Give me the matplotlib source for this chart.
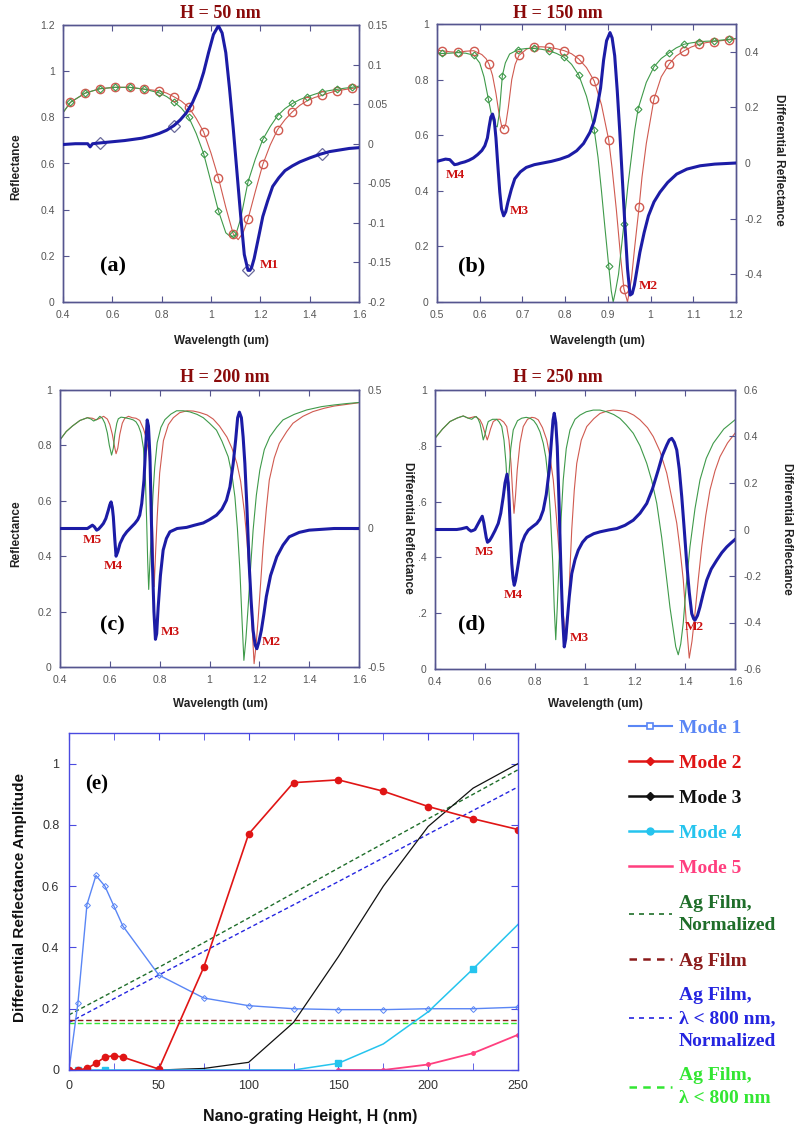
import matplotlib
matplotlib.use("Agg")
import matplotlib.pyplot as plt
from matplotlib.lines import Line2D
from matplotlib.ticker import MultipleLocator

# === Data: panel (a) H = 50 nm ===
a_red_x = [0.40, 0.43, 0.49, 0.55, 0.61, 0.67, 0.73, 0.79, 0.82, 0.85, 0.88, 0.91, 0.94, 0.97, 1.00, 1.03,
           1.06, 1.09, 1.11, 1.13, 1.15, 1.18, 1.21, 1.24, 1.27, 1.30, 1.33, 1.36, 1.39, 1.42, 1.45, 1.48,
           1.51, 1.54, 1.57, 1.60]
a_red_y = [0.82, 0.865, 0.905, 0.924, 0.93, 0.93, 0.922, 0.915, 0.905, 0.889, 0.87, 0.843, 0.795, 0.737,
           0.645, 0.538, 0.41, 0.295, 0.27, 0.30, 0.359, 0.48, 0.596, 0.68, 0.747, 0.79, 0.824, 0.852, 0.872,
           0.886, 0.895, 0.906, 0.915, 0.92, 0.925, 0.93]
a_red_mk_x = [0.43, 0.49, 0.55, 0.61, 0.67, 0.73, 0.79, 0.85, 0.91, 0.97, 1.03, 1.09, 1.15, 1.21, 1.27, 1.33,
              1.39, 1.45, 1.51, 1.57]
a_red_mk_y = [0.865, 0.905, 0.924, 0.93, 0.93, 0.922, 0.915, 0.889, 0.843, 0.737, 0.538, 0.295, 0.359, 0.596,
              0.747, 0.824, 0.872, 0.895, 0.915, 0.925]
a_green_x = [0.40, 0.43, 0.49, 0.55, 0.61, 0.67, 0.73, 0.79, 0.82, 0.85, 0.88, 0.91, 0.94, 0.97, 1.00, 1.03,
             1.06, 1.08, 1.10, 1.12, 1.15, 1.18, 1.21, 1.24, 1.27, 1.30, 1.33, 1.36, 1.39, 1.42, 1.45, 1.48,
             1.51, 1.54, 1.57, 1.60]
a_green_y = [0.82, 0.865, 0.905, 0.924, 0.93, 0.93, 0.922, 0.906, 0.89, 0.867, 0.84, 0.80, 0.73, 0.643, 0.52,
             0.395, 0.30, 0.282, 0.29, 0.36, 0.52, 0.62, 0.704, 0.76, 0.807, 0.838, 0.86, 0.877, 0.889, 0.90,
             0.91, 0.916, 0.921, 0.926, 0.93, 0.935]
a_green_mk_x = [0.43, 0.49, 0.55, 0.61, 0.67, 0.73, 0.79, 0.85, 0.91, 0.97, 1.03, 1.09, 1.15, 1.21, 1.27, 1.33,
                1.39, 1.45, 1.51, 1.57]
a_green_mk_y = [0.865, 0.905, 0.924, 0.93, 0.93, 0.922, 0.906, 0.867, 0.80, 0.643, 0.395, 0.296, 0.52, 0.704,
                0.807, 0.86, 0.889, 0.91, 0.921, 0.93]
a_blue_x = [0.40, 0.45, 0.50, 0.51, 0.52, 0.55, 0.65, 0.72, 0.76, 0.79, 0.82, 0.85, 0.875, 0.90, 0.925, 0.95,
            0.97, 0.99, 1.01, 1.03, 1.045, 1.06, 1.075, 1.09, 1.105, 1.12, 1.135, 1.15, 1.158, 1.165, 1.175,
            1.185, 1.195, 1.21, 1.23, 1.25, 1.275, 1.30, 1.33, 1.36, 1.40, 1.44, 1.48, 1.52, 1.56, 1.60]
a_blue_y = [-0.001, 0.0, 0.0, -0.004, 0.0, 0.001, 0.004, 0.007, 0.01, 0.013, 0.017, 0.023, 0.03, 0.039, 0.052,
            0.07, 0.09, 0.115, 0.138, 0.149, 0.14, 0.115, 0.07, 0.02, -0.035, -0.09, -0.14, -0.16, -0.16,
            -0.156, -0.145, -0.13, -0.115, -0.092, -0.072, -0.054, -0.043, -0.034, -0.028, -0.023, -0.018,
            -0.0135, -0.01, -0.008, -0.006, -0.005]
a_blue_mk_x = [0.55, 0.85, 1.15, 1.45]
a_blue_mk_y = [0.001, 0.023, -0.16, -0.013]

# === Data: panel (b) H = 150 nm ===
b_red_x = [0.50, 0.512, 0.53, 0.549, 0.567, 0.586, 0.605, 0.615, 0.622, 0.63, 0.638, 0.645, 0.651, 0.656,
           0.661, 0.667, 0.675, 0.683, 0.692, 0.71, 0.727, 0.745, 0.762, 0.78, 0.798, 0.815, 0.832, 0.85,
           0.868, 0.885, 0.902, 0.91, 0.92, 0.93, 0.9375, 0.946, 0.955, 0.963, 0.973, 0.98, 0.99, 1.008,
           1.025, 1.044, 1.06, 1.078, 1.095, 1.113, 1.13, 1.148, 1.165, 1.184, 1.20]
b_red_y = [0.905, 0.904, 0.90, 0.898, 0.902, 0.904, 0.89, 0.875, 0.855, 0.815, 0.75, 0.68, 0.635, 0.623, 0.64,
           0.70, 0.80, 0.855, 0.887, 0.91, 0.918, 0.918, 0.916, 0.911, 0.904, 0.893, 0.874, 0.843, 0.795, 0.71,
           0.583, 0.48, 0.33, 0.16, 0.048, 0.0, 0.08, 0.20, 0.34, 0.45, 0.57, 0.73, 0.81, 0.857, 0.885, 0.903,
           0.917, 0.927, 0.933, 0.937, 0.94, 0.943, 0.947]
b_red_mk_x = [0.512, 0.549, 0.586, 0.622, 0.656, 0.692, 0.727, 0.762, 0.798, 0.832, 0.868, 0.902, 0.9375,
              0.973, 1.008, 1.044, 1.078, 1.113, 1.148, 1.184]
b_red_mk_y = [0.904, 0.898, 0.904, 0.855, 0.623, 0.887, 0.918, 0.916, 0.904, 0.874, 0.795, 0.583, 0.048, 0.34,
              0.73, 0.857, 0.903, 0.927, 0.937, 0.943]
b_green_x = [0.50, 0.512, 0.53, 0.549, 0.567, 0.586, 0.60, 0.61, 0.62, 0.628, 0.635, 0.641, 0.646, 0.653,
             0.66, 0.67, 0.69, 0.71, 0.727, 0.745, 0.762, 0.78, 0.798, 0.815, 0.832, 0.85, 0.86, 0.868, 0.877,
             0.885, 0.893, 0.902, 0.908, 0.9125, 0.918, 0.925, 0.9375, 0.947, 0.955, 0.963, 0.971, 0.99,
             1.008, 1.025, 1.044, 1.06, 1.078, 1.095, 1.113, 1.13, 1.148, 1.165, 1.184, 1.20]
b_green_y = [0.895, 0.894, 0.895, 0.897, 0.895, 0.888, 0.86, 0.81, 0.732, 0.67, 0.635, 0.63, 0.68, 0.814,
             0.86, 0.892, 0.908, 0.912, 0.912, 0.909, 0.904, 0.894, 0.88, 0.855, 0.816, 0.74, 0.68, 0.62, 0.52,
             0.40, 0.27, 0.13, 0.04, 0.0, 0.04, 0.10, 0.279, 0.42, 0.52, 0.62, 0.696, 0.79, 0.846, 0.876,
             0.897, 0.914, 0.927, 0.932, 0.936, 0.938, 0.939, 0.942, 0.945, 0.948]
b_green_mk_x = [0.512, 0.549, 0.586, 0.62, 0.653, 0.69, 0.727, 0.762, 0.798, 0.832, 0.868, 0.902, 0.9375,
                0.971, 1.008, 1.044, 1.078, 1.113, 1.148, 1.184]
b_green_mk_y = [0.894, 0.897, 0.888, 0.732, 0.814, 0.908, 0.912, 0.904, 0.88, 0.816, 0.62, 0.13, 0.279, 0.696,
                0.846, 0.897, 0.927, 0.936, 0.939, 0.945]
b_blue_x = [0.50, 0.51, 0.52, 0.53, 0.536, 0.541, 0.548, 0.555, 0.565, 0.575, 0.585, 0.595, 0.605, 0.612,
            0.618, 0.622, 0.626, 0.63, 0.634, 0.638, 0.642, 0.647, 0.651, 0.656, 0.661, 0.666, 0.674, 0.682,
            0.695, 0.709, 0.728, 0.748, 0.768, 0.788, 0.808, 0.827, 0.843, 0.858, 0.868, 0.875, 0.883, 0.89,
            0.897, 0.905, 0.91, 0.916, 0.922, 0.928, 0.934, 0.94, 0.946, 0.952, 0.957, 0.962, 0.968, 0.975,
            0.985, 0.995, 1.008, 1.022, 1.04, 1.061, 1.085, 1.116, 1.15, 1.20]
b_blue_y = [0.006, 0.01, 0.014, 0.012, 0.002, -0.006, -0.004, 0.0, 0.004, 0.01, 0.018, 0.03, 0.045, 0.062,
            0.09, 0.13, 0.165, 0.176, 0.155, 0.09, 0.0, -0.105, -0.165, -0.19, -0.175, -0.141, -0.095, -0.057,
            -0.032, -0.016, -0.006, 0.0, 0.006, 0.014, 0.025, 0.044, 0.07, 0.11, 0.15, 0.2, 0.27, 0.37, 0.44,
            0.469, 0.45, 0.386, 0.26, 0.11, -0.06, -0.225, -0.38, -0.475, -0.47, -0.44, -0.385, -0.321, -0.25,
            -0.19, -0.14, -0.105, -0.07, -0.04, -0.022, -0.01, -0.004, 0.0]

# === Data: panel (c) H = 200 nm ===
c_red_x = [0.40, 0.425, 0.45, 0.48, 0.51, 0.53, 0.545, 0.56, 0.575, 0.59, 0.60, 0.61, 0.618, 0.625, 0.632,
           0.64, 0.65, 0.66, 0.675, 0.69, 0.705, 0.72, 0.735, 0.745, 0.755, 0.762, 0.767, 0.772, 0.778, 0.784,
           0.79, 0.80, 0.815, 0.835, 0.855, 0.88, 0.91, 0.935, 0.96, 0.99, 1.015, 1.04, 1.07, 1.09, 1.11,
           1.125, 1.14, 1.15, 1.16, 1.17, 1.179, 1.187, 1.195, 1.205, 1.215, 1.228, 1.24, 1.26, 1.28, 1.31,
           1.335, 1.375, 1.415, 1.46, 1.50, 1.55, 1.60]
c_red_y = [0.82, 0.85, 0.87, 0.89, 0.90, 0.898, 0.892, 0.898, 0.905, 0.895, 0.875, 0.84, 0.80, 0.77, 0.79,
           0.84, 0.88, 0.898, 0.905, 0.90, 0.898, 0.89, 0.86, 0.83, 0.78, 0.72, 0.64, 0.48, 0.29, 0.42, 0.54,
           0.70, 0.817, 0.875, 0.90, 0.918, 0.925, 0.924, 0.919, 0.91, 0.895, 0.87, 0.83, 0.79, 0.735, 0.67,
           0.56, 0.46, 0.33, 0.16, 0.012, 0.08, 0.17, 0.30, 0.434, 0.57, 0.675, 0.755, 0.807, 0.85, 0.88,
           0.905, 0.922, 0.934, 0.942, 0.948, 0.954]
c_green_x = [0.40, 0.425, 0.45, 0.48, 0.51, 0.525, 0.535, 0.55, 0.56, 0.57, 0.58, 0.59, 0.598, 0.607, 0.614,
             0.62, 0.628, 0.634, 0.645, 0.66, 0.68, 0.694, 0.705, 0.715, 0.725, 0.735, 0.743, 0.748, 0.752,
             0.756, 0.761, 0.767, 0.773, 0.78, 0.79, 0.805, 0.821, 0.845, 0.868, 0.895, 0.921, 0.95, 0.975,
             1.0, 1.028, 1.05, 1.075, 1.09, 1.102, 1.112, 1.122, 1.13, 1.138, 1.146, 1.155, 1.165, 1.175,
             1.188, 1.202, 1.22, 1.242, 1.27, 1.295, 1.34, 1.39, 1.45, 1.50, 1.55, 1.60]
c_green_y = [0.82, 0.85, 0.87, 0.89, 0.90, 0.895, 0.888, 0.895, 0.905, 0.898, 0.88, 0.845, 0.80, 0.765, 0.79,
             0.84, 0.88, 0.896, 0.902, 0.90, 0.896, 0.892, 0.885, 0.87, 0.845, 0.79, 0.675, 0.52, 0.38, 0.28,
             0.38, 0.494, 0.62, 0.72, 0.81, 0.865, 0.893, 0.913, 0.925, 0.925, 0.921, 0.912, 0.90, 0.88, 0.855,
             0.815, 0.759, 0.695, 0.614, 0.50, 0.349, 0.18, 0.024, 0.10, 0.217, 0.36, 0.494, 0.62, 0.711, 0.785,
             0.831, 0.866, 0.892, 0.912, 0.928, 0.94, 0.946, 0.951, 0.955]
c_blue_x = [0.40, 0.51, 0.52, 0.53, 0.538, 0.547, 0.555, 0.565, 0.574, 0.584, 0.594, 0.60, 0.605, 0.61, 0.614,
            0.62, 0.625, 0.632, 0.641, 0.655, 0.668, 0.685, 0.70, 0.712, 0.72, 0.728, 0.737, 0.744, 0.75,
            0.755, 0.761, 0.766, 0.771, 0.777, 0.783, 0.788, 0.794, 0.803, 0.814, 0.827, 0.841, 0.87, 0.908,
            0.94, 0.975, 1.0, 1.028, 1.05, 1.068, 1.082, 1.095, 1.105, 1.113, 1.12, 1.128, 1.135, 1.142, 1.15,
            1.159, 1.167, 1.175, 1.183, 1.19, 1.198, 1.208, 1.218, 1.228, 1.245, 1.27, 1.295, 1.32, 1.36,
            1.40, 1.50, 1.60]
c_blue_y = [0.0, 0.0, 0.006, 0.012, 0.006, -0.006, -0.002, 0.008, 0.018, 0.036, 0.066, 0.086, 0.096, 0.076,
            0.042, -0.04, -0.10, -0.084, -0.054, -0.028, -0.012, 0.004, 0.018, 0.032, 0.048, 0.09, 0.174, 0.30,
            0.392, 0.37, 0.26, 0.06, -0.126, -0.30, -0.40, -0.38, -0.284, -0.17, -0.078, -0.036, -0.012, 0.0,
            0.004, 0.012, 0.02, 0.032, 0.048, 0.07, 0.102, 0.15, 0.234, 0.32, 0.40, 0.42, 0.40, 0.33, 0.234,
            0.08, -0.126, -0.26, -0.368, -0.42, -0.434, -0.41, -0.368, -0.31, -0.246, -0.17, -0.102, -0.06,
            -0.03, -0.014, -0.006, 0.0, 0.0]

# === Data: panel (d) H = 250 nm ===
d_red_x = [0.40, 0.43, 0.46, 0.49, 0.513, 0.533, 0.548, 0.56, 0.57, 0.58, 0.59, 0.60, 0.609, 0.616, 0.622,
           0.633, 0.648, 0.66, 0.675, 0.687, 0.696, 0.704, 0.71, 0.716, 0.722, 0.729, 0.74, 0.753, 0.77, 0.787,
           0.80, 0.813, 0.83, 0.847, 0.86, 0.873, 0.887, 0.90, 0.913, 0.92, 0.925, 0.93, 0.935, 0.94, 0.947,
           0.957, 0.967, 0.985, 1.007, 1.035, 1.06, 1.09, 1.113, 1.14, 1.167, 1.195, 1.22, 1.25, 1.273, 1.30,
           1.327, 1.35, 1.367, 1.38, 1.393, 1.405, 1.417, 1.428, 1.44, 1.453, 1.467, 1.483, 1.50, 1.52, 1.54,
           1.57, 1.60]
d_red_y = [0.827, 0.86, 0.887, 0.90, 0.907, 0.899, 0.902, 0.905, 0.90, 0.893, 0.875, 0.845, 0.821, 0.84, 0.86,
           0.887, 0.895, 0.895, 0.885, 0.869, 0.82, 0.737, 0.64, 0.558, 0.62, 0.714, 0.81, 0.869, 0.895, 0.902,
           0.90, 0.893, 0.865, 0.821, 0.76, 0.678, 0.53, 0.379, 0.2, 0.13, 0.115, 0.16, 0.25, 0.36, 0.5, 0.64,
           0.737, 0.82, 0.869, 0.897, 0.916, 0.925, 0.928, 0.926, 0.922, 0.91, 0.893, 0.865, 0.833, 0.78,
           0.702, 0.60, 0.523, 0.43, 0.32, 0.17, 0.039, 0.10, 0.20, 0.32, 0.439, 0.55, 0.642, 0.71, 0.761,
           0.81, 0.845]
d_green_x = [0.40, 0.43, 0.46, 0.49, 0.513, 0.53, 0.547, 0.557, 0.565, 0.573, 0.58, 0.587, 0.593, 0.60, 0.607,
             0.613, 0.63, 0.647, 0.657, 0.667, 0.676, 0.684, 0.69, 0.696, 0.703, 0.713, 0.73, 0.747, 0.765,
             0.78, 0.795, 0.807, 0.82, 0.833, 0.843, 0.853, 0.862, 0.871, 0.877, 0.883, 0.889, 0.896, 0.905,
             0.913, 0.925, 0.94, 0.96, 0.98, 1.005, 1.033, 1.06, 1.087, 1.115, 1.14, 1.165, 1.193, 1.22, 1.247,
             1.267, 1.287, 1.307, 1.327, 1.34, 1.353, 1.363, 1.373, 1.383, 1.393, 1.405, 1.42, 1.44, 1.46,
             1.485, 1.513, 1.555, 1.60]
d_green_y = [0.827, 0.86, 0.887, 0.90, 0.907, 0.90, 0.895, 0.902, 0.905, 0.895, 0.88, 0.85, 0.821, 0.84, 0.87,
             0.887, 0.895, 0.895, 0.885, 0.869, 0.82, 0.737, 0.64, 0.70, 0.79, 0.857, 0.89, 0.899, 0.902, 0.899,
             0.89, 0.875, 0.85, 0.809, 0.76, 0.678, 0.55, 0.379, 0.22, 0.105, 0.22, 0.379, 0.55, 0.678, 0.79,
             0.857, 0.895, 0.91, 0.922, 0.928, 0.928, 0.922, 0.912, 0.898, 0.875, 0.845, 0.80, 0.737, 0.675,
             0.594, 0.47, 0.32, 0.22, 0.141, 0.08, 0.051, 0.09, 0.165, 0.30, 0.439, 0.575, 0.678, 0.755, 0.809,
             0.86, 0.893]
d_blue_x = [0.40, 0.487, 0.505, 0.527, 0.535, 0.544, 0.552, 0.56, 0.57, 0.58, 0.589, 0.595, 0.60, 0.605, 0.61,
            0.618, 0.627, 0.64, 0.653, 0.663, 0.673, 0.68, 0.688, 0.693, 0.697, 0.702, 0.707, 0.712, 0.717,
            0.722, 0.729, 0.737, 0.747, 0.76, 0.773, 0.79, 0.807, 0.82, 0.833, 0.845, 0.857, 0.867, 0.872,
            0.877, 0.883, 0.889, 0.896, 0.903, 0.91, 0.917, 0.923, 0.929, 0.937, 0.947, 0.96, 0.973, 0.99,
            1.007, 1.035, 1.06, 1.095, 1.127, 1.16, 1.193, 1.22, 1.247, 1.27, 1.293, 1.31, 1.327, 1.337, 1.347,
            1.357, 1.367, 1.377, 1.387, 1.397, 1.407, 1.417, 1.427, 1.435, 1.44, 1.45, 1.46, 1.473, 1.487,
            1.505, 1.527, 1.547, 1.567, 1.585, 1.60]
d_blue_y = [0.0, 0.0, 0.003, 0.009, 0.0, -0.007, -0.004, 0.0, 0.02, 0.04, 0.057, 0.03, -0.003, -0.035, -0.055,
            -0.048, -0.032, -0.005, 0.026, 0.07, 0.141, 0.2, 0.238, 0.2, 0.112, -0.02, -0.146, -0.21, -0.24,
            -0.22, -0.175, -0.12, -0.06, -0.025, -0.003, 0.012, 0.026, 0.045, 0.083, 0.15, 0.256, 0.4, 0.47,
            0.5, 0.46, 0.356, 0.12, -0.146, -0.37, -0.505, -0.47, -0.39, -0.29, -0.19, -0.13, -0.089, -0.055,
            -0.034, -0.018, -0.01, -0.002, 0.004, 0.018, 0.04, 0.07, 0.112, 0.175, 0.256, 0.32, 0.363, 0.385,
            0.392, 0.375, 0.342, 0.26, 0.141, 0.0, -0.146, -0.27, -0.362, -0.385, -0.39, -0.37, -0.333, -0.275,
            -0.218, -0.17, -0.132, -0.1, -0.075, -0.057, -0.043]

# === Data: panel (e) mode amplitude vs grating height ===
mode1_h = [0, 5, 10, 15, 20, 25, 30, 50, 75, 100, 125, 150, 175, 200, 225, 250]
mode1_v = [0, 0.22, 0.54, 0.635, 0.60, 0.535, 0.47, 0.31, 0.235, 0.21, 0.20, 0.197, 0.197, 0.20, 0.20, 0.205]
mode2_h = [0, 5, 10, 15, 20, 25, 30, 50, 75, 100, 125, 150, 175, 200, 225, 250]
mode2_v = [0, 0, 0.005, 0.022, 0.042, 0.047, 0.042, 0.003, 0.335, 0.77, 0.938, 0.947, 0.91, 0.86, 0.82, 0.785]
mode3_h = [40, 50, 75, 100, 125, 150, 175, 200, 225, 250]
mode3_v = [0, 0, 0.005, 0.025, 0.155, 0.37, 0.60, 0.795, 0.92, 1.0]
mode4_h = [5, 20, 50, 75, 100, 125, 150, 175, 200, 225, 250]
mode4_v = [0, 0, 0, 0, 0, 0, 0.022, 0.085, 0.19, 0.33, 0.475]
mode5_h = [150, 175, 200, 225, 250]
mode5_v = [0, 0, 0.018, 0.055, 0.115]
film_h = [0, 50, 100, 150, 200, 250]
film_norm = [0.18, 0.335, 0.496, 0.659, 0.82, 0.98]
film_800_norm = [0.155, 0.31, 0.463, 0.615, 0.77, 0.924]
film_raw = [0.163] * 6
film_800_raw = [0.153] * 6

legend_labels = ["Mode 1", "Mode 2", "Mode 3", "Mode 4", "Mode 5", "Ag Film,\nNormalized", "Ag Film",
                 "Ag Film,\n\u03bb < 800 nm,\nNormalized", "Ag Film,\n\u03bb < 800 nm"]

# === Style ===
W, H = 798, 1133
SERIF = "Liberation Serif"
SANS = "Liberation Sans"
NAVY = "#1c1ca6"
RED = "#d05a50"
GREEN = "#3f9a4a"
SPINE = "#55558f"
TICKC = "#555555"
DARKRED = "#8a0a0a"
MRED = "#cc1111"

fig = plt.figure(figsize=(W / 100, H / 100), dpi=100)


def box(l, t, r, b):
    return [l / W, 1 - b / H, (r - l) / W, (b - t) / H]


def ftext(x, y, s, **kw):
    fig.text(x / W, 1 - y / H, s, ha="center", va="center", **kw)


def fmt(v):
    return f"{v:g}"


def style_axes(ax, color=SPINE, size=7.5):
    for sp in ax.spines.values():
        sp.set_color(color)
        sp.set_linewidth(1.0)
    ax.tick_params(direction="in", colors=color, labelcolor=TICKC, labelsize=size, length=4, width=0.8)
    for lab in ax.get_xticklabels() + ax.get_yticklabels():
        lab.set_fontfamily(SANS)


def spectrum(rect, xlim, xticks, rlim, rticks, red, green, blue, marks=None, lticks=None):
    ax = fig.add_axes(box(*rect))
    ax.plot(red[0], red[1], color=RED, lw=0.8, zorder=2)
    ax.plot(green[0], green[1], color=GREEN, lw=0.8, zorder=2)
    if marks:
        ax.plot(marks["red"][0], marks["red"][1], ls="none", marker="o", ms=6, mfc="none", mec=RED, mew=1.0)
        ax.plot(marks["green"][0], marks["green"][1], ls="none", marker="D", ms=3.5, mfc="none",
                mec=GREEN, mew=0.8)
    ax.set_xlim(*xlim)
    ax.set_ylim(0, 1.2 if lticks is None else 1.0)
    ax.set_xticks(xticks)
    ax.set_xticklabels([fmt(v) for v in xticks])
    yt = lticks if lticks is not None else [0, 0.2, 0.4, 0.6, 0.8, 1, 1.2]
    ax.set_yticks(yt)
    ax.set_yticklabels([fmt(v) for v in yt])
    ax.tick_params(top=True, pad=6)
    axr = ax.twinx()
    axr.plot(blue[0], blue[1], color=NAVY, lw=2.2, zorder=3)
    if marks:
        axr.plot(marks["blue"][0], marks["blue"][1], ls="none", marker="D", ms=6, mfc="none",
                 mec="#6a6a9a", mew=0.9)
    axr.set_ylim(*rlim)
    axr.set_yticks(rticks)
    axr.set_yticklabels([fmt(v) for v in rticks])
    style_axes(ax)
    style_axes(axr)
    axr.tick_params(pad=6)
    return ax


note_kw = dict(color=MRED, fontfamily=SERIF, fontweight="bold", fontsize=9.5, va="center", ha="left")
tag_kw = dict(color="black", fontfamily=SERIF, fontweight="bold", fontsize=16, va="center", ha="left")
title_kw = dict(color=DARKRED, fontfamily=SERIF, fontweight="bold", fontsize=13)
lab_kw = dict(fontfamily=SANS, fontweight="bold", fontsize=8.5, color="#222222")

# (a)
ax_a = spectrum((63, 25, 359, 302), (0.4, 1.6), [0.4, 0.6, 0.8, 1.0, 1.2, 1.4, 1.6], (-0.2, 0.15),
                [-0.2, -0.15, -0.1, -0.05, 0, 0.05, 0.1, 0.15],
                (a_red_x, a_red_y), (a_green_x, a_green_y), (a_blue_x, a_blue_y),
                marks={"red": (a_red_mk_x, a_red_mk_y), "green": (a_green_mk_x, a_green_mk_y),
                       "blue": (a_blue_mk_x, a_blue_mk_y)})
ax_a.text(0.549, 0.152, "(a)", **tag_kw)
ax_a.text(1.197, 0.16, "M1", **note_kw)

# (b)
ax_b = spectrum((437, 24, 736, 302), (0.5, 1.2), [0.5, 0.6, 0.7, 0.8, 0.9, 1.0, 1.1, 1.2], (-0.5, 0.5),
                [-0.4, -0.2, 0, 0.2, 0.4],
                (b_red_x, b_red_y), (b_green_x, b_green_y), (b_blue_x, b_blue_y),
                marks={"red": (b_red_mk_x, b_red_mk_y), "green": (b_green_mk_x, b_green_mk_y),
                       "blue": ([], [])},
                lticks=[0, 0.2, 0.4, 0.6, 0.8, 1])
ax_b.text(0.549, 0.126, "(b)", **tag_kw)
ax_b.text(0.52, 0.456, "M4", **note_kw)
ax_b.text(0.67, 0.328, "M3", **note_kw)
ax_b.text(0.973, 0.056, "M2", **note_kw)

# (c)
ax_c = spectrum((60, 390, 359, 667), (0.4, 1.6), [0.4, 0.6, 0.8, 1.0, 1.2, 1.4, 1.6], (-0.5, 0.5),
                [-0.5, 0, 0.5],
                (c_red_x, c_red_y), (c_green_x, c_green_y), (c_blue_x, c_blue_y),
                lticks=[0, 0.2, 0.4, 0.6, 0.8, 1])
ax_c.text(0.56, 0.15, "(c)", **tag_kw)
ax_c.text(0.491, 0.46, "M5", **note_kw)
ax_c.text(0.576, 0.365, "M4", **note_kw)
ax_c.text(0.806, 0.126, "M3", **note_kw)
ax_c.text(1.211, 0.09, "M2", **note_kw)

# (d)
ax_d = spectrum((435, 390, 735, 669), (0.4, 1.6), [0.4, 0.6, 0.8, 1.0, 1.2, 1.4, 1.6], (-0.6, 0.6),
                [-0.6, -0.4, -0.2, 0, 0.2, 0.4, 0.6],
                (d_red_x, d_red_y), (d_green_x, d_green_y), (d_blue_x, d_blue_y),
                lticks=[0, 0.2, 0.4, 0.6, 0.8, 1])
ax_d.set_yticklabels(["0", ".2", ".4", ".6", ".8", "1"])
ax_d.text(0.493, 0.159, "(d)", **tag_kw)
ax_d.text(0.56, 0.421, "M5", **note_kw)
ax_d.text(0.673, 0.266, "M4", **note_kw)
ax_d.text(0.94, 0.111, "M3", **note_kw)
ax_d.text(1.40, 0.149, "M2", **note_kw)

# titles and axis labels of the spectra
ftext(220, 14, "H = 50 nm", **title_kw)
ftext(558, 14, "H = 150 nm", **title_kw)
ftext(225, 378, "H = 200 nm", **title_kw)
ftext(558, 378, "H = 250 nm", **title_kw)
ftext(16, 167, "Reflectance", rotation=90, **lab_kw)
ftext(16, 534, "Reflectance", rotation=90, **lab_kw)
ftext(779, 160, "Differential Reflectance", rotation=270, **lab_kw)
ftext(408, 528, "Differential Reflectance", rotation=270, **lab_kw)
ftext(787, 529, "Differential Reflectance", rotation=270, **lab_kw)
ftext(221, 341, "Wavelength (um)", **lab_kw)
ftext(597, 341, "Wavelength (um)", **lab_kw)
ftext(220, 704, "Wavelength (um)", **lab_kw)
ftext(595, 704, "Wavelength (um)", **lab_kw)

# (e)
ax_e = fig.add_axes(box(69, 733, 518, 1070))
C1, C2, C3, C4, C5 = "#5a86f5", "#e01515", "#111111", "#25c4ee", "#ff3f7f"
CG, CR, CB, CL = "#1f6e2a", "#8b1a1a", "#2525e0", "#33e633"
ax_e.plot(film_h, film_norm, color=CG, lw=1.0, ls=(0, (3, 2)))
ax_e.plot(film_h, film_800_norm, color=CB, lw=1.0, ls=(0, (3, 2)))
ax_e.plot(film_h, film_raw, color=CR, lw=1.0, ls=(0, (4, 2)))
ax_e.plot(film_h, film_800_raw, color=CL, lw=1.0, ls=(0, (4, 2)))
ax_e.plot(mode1_h, mode1_v, color=C1, lw=1.0, marker="D", ms=3, mfc="none", mew=0.7)
ax_e.plot(mode3_h, mode3_v, color=C3, lw=0.9)
ax_e.plot(mode4_h, mode4_v, color=C4, lw=1.1, marker="s", ms=4, markevery=[0, 1, 6, 9])
ax_e.plot(mode5_h, mode5_v, color=C5, lw=1.3, marker="o", ms=2.5)
ax_e.plot(mode2_h, mode2_v, color=C2, lw=1.2, marker="o", ms=4.5)
ax_e.set_xlim(0, 250)
ax_e.set_ylim(0, 1.1)
ax_e.xaxis.set_major_locator(MultipleLocator(50))
ax_e.xaxis.set_minor_locator(MultipleLocator(25))
ax_e.set_yticks([0, 0.2, 0.4, 0.6, 0.8, 1.0])
ax_e.set_yticklabels(["0", "0.2", "0.4", "0.6", "0.8", "1"])
ax_e.set_xticks([0, 50, 100, 150, 200, 250])
style_axes(ax_e, color="#4a4ae0", size=9)
ax_e.tick_params(which="both", top=True, right=True, direction="in", length=5, pad=7,
                 colors="#4a4ae0", labelcolor="#333333")
ax_e.text(8.9, 0.931, "(e)", **dict(tag_kw, fontsize=15))
ftext(310, 1117, "Nano-grating Height, H (nm)", fontfamily=SANS, fontweight="bold", fontsize=11.5,
      color="#111111")
ftext(20, 898, "Differential Reflectance Amplitude", rotation=90, fontfamily=SANS, fontweight="bold",
      fontsize=11, color="#111111")

handles = [
    Line2D([], [], color=C1, lw=1.5, marker="s", ms=5, mfc="white", mew=1.2),
    Line2D([], [], color=C2, lw=1.8, marker="D", ms=4),
    Line2D([], [], color=C3, lw=1.8, marker="D", ms=4),
    Line2D([], [], color=C4, lw=1.8, marker="o", ms=5),
    Line2D([], [], color=C5, lw=1.8),
    Line2D([], [], color=CG, lw=1.2, ls=(0, (3, 3))),
    Line2D([], [], color=CR, lw=1.8, ls=(0, (3, 2.5))),
    Line2D([], [], color=CB, lw=1.2, ls=(0, (3, 3))),
    Line2D([], [], color=CL, lw=1.8, ls=(0, (3, 2.5))),
]
leg = fig.legend(handles, legend_labels, loc="upper left", bbox_to_anchor=(629 / W, 1 - 719 / H),
                 frameon=False, borderpad=0, borderaxespad=0, handlelength=2.2, handletextpad=0.35,
                 labelspacing=0.9, labelcolor=[C1, C2, C3, C4, C5, CG, CR, CB, CL],
                 prop=dict(family=SERIF, weight="bold", size=14))
for t in leg.get_texts():
    t.set_linespacing(1.45)

fig.savefig("out.png", dpi=100)
